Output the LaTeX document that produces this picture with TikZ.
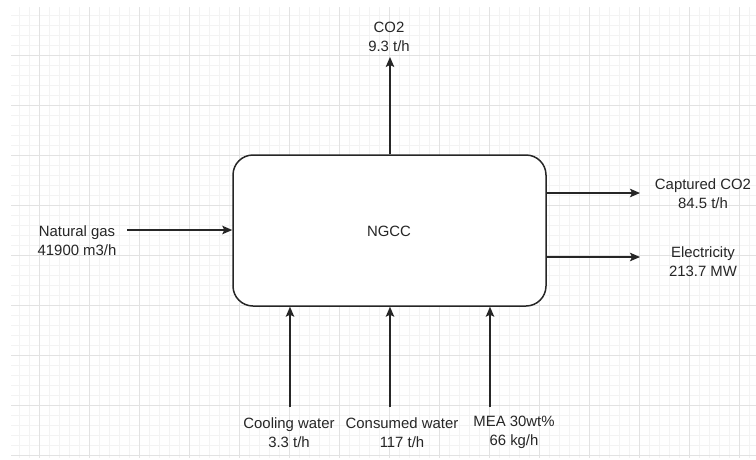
\documentclass[tikz,border=0pt]{standalone}
\usepackage{fontspec}
\setmainfont{Liberation Sans}
\usetikzlibrary{arrows.meta}
\definecolor{gridminor}{HTML}{F3F3F3}
\definecolor{gridmajor}{HTML}{E2E2E2}
\definecolor{ink}{HTML}{262626}
\begin{document}
\begin{tikzpicture}[x=1pt,y=-1pt,
  lbl/.style={align=center,text=ink,inner sep=0pt,font=\fontsize{14.9}{19}\selectfont},
  flow/.style={draw=ink,line width=1.3pt,-{Stealth[length=10pt,width=8.5pt,inset=2pt]}},
  unitbox/.style={draw=ink,line width=1.5pt,rounded corners=20pt,fill=white,minimum width=313pt,minimum height=151pt,inner sep=0pt}]
\useasboundingbox (0,0) rectangle (756,459);
\fill[white] (0,0) rectangle (756,459);
% grid
\begin{scope}
\clip (11,7) rectangle (756,458);
\foreach \x in {19,29,...,749}{\draw[gridminor,line width=0.8pt] (\x,7) -- (\x,458);}
\foreach \y in {15,25,...,455}{\draw[gridminor,line width=0.8pt] (11,\y) -- (756,\y);}
\foreach \x in {39,89,...,739}{\draw[gridmajor,line width=1pt] (\x,7) -- (\x,458);}
\foreach \y in {55,105,...,455}{\draw[gridmajor,line width=1pt] (11,\y) -- (756,\y);}
\end{scope}
% main unit
\node[unitbox] (ngcc) at (389.5,230.5) {};
\node[lbl] (ngcctxt) at (389,231) {NGCC};
% labels
\node[lbl] (co2) at (389,36.5) {CO2\\9.3 t/h};
\node[lbl] (gas) at (77,241) {Natural gas\\41900 m3/h};
\node[lbl] (cap) at (703,193.5) {Captured CO2\\84.5 t/h};
\node[lbl] (elec) at (703,262) {Electricity\\213.7 MW};
\node[lbl] (cool) at (289,432.5) {Cooling water\\3.3 t/h};
\node[lbl] (cons) at (402,432.5) {Consumed water\\117 t/h};
\node[lbl] (mea) at (514,432.5) {MEA 30wt\%\\66 kg/h};
% free ends
\coordinate (co2end) at (390,57);
\coordinate (gasstart) at (127,230);
\coordinate (capend) at (640,193);
\coordinate (elecend) at (640,257);
\coordinate (coolstart) at (290,407);
\coordinate (consstart) at (390,407);
\coordinate (meastart) at (490,407);
% connectors
\draw[flow] (ngcc.north -| co2end) -- (co2end);
\draw[flow] (gasstart) -- (gasstart -| ngcc.west);
\draw[flow] (capend -| ngcc.east) -- (capend);
\draw[flow] (elecend -| ngcc.east) -- (elecend);
\draw[flow] (coolstart) -- (coolstart |- ngcc.south);
\draw[flow] (consstart) -- (consstart |- ngcc.south);
\draw[flow] (meastart) -- (meastart |- ngcc.south);
\end{tikzpicture}
\end{document}
